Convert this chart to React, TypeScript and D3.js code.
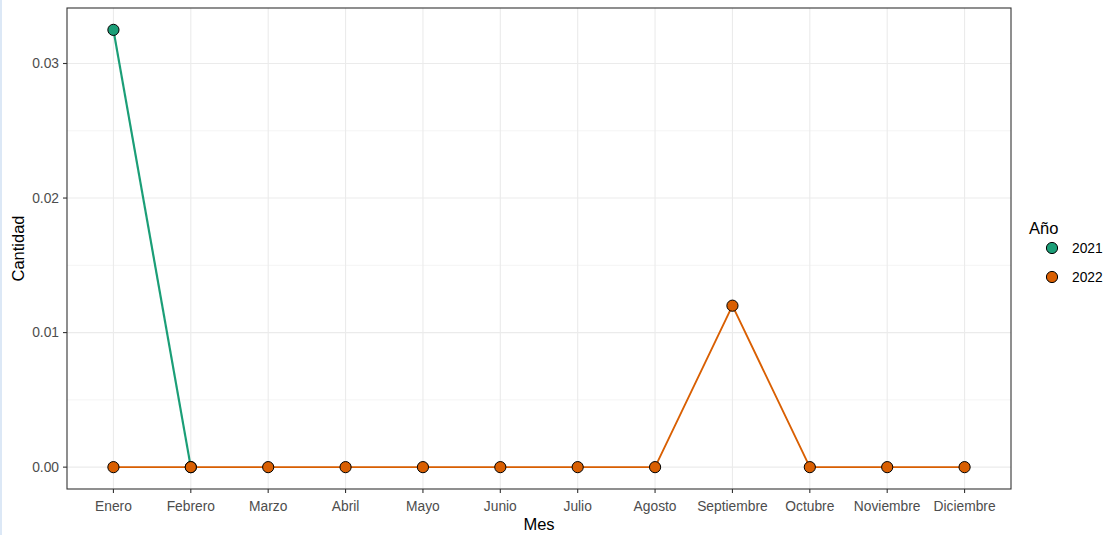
import * as d3 from "d3";

const W = 1108;
const H = 535;
const MARGIN = { top: 8, right: 97, bottom: 46, left: 67 };

const months = [
  "Enero", "Febrero", "Marzo", "Abril", "Mayo", "Junio",
  "Julio", "Agosto", "Septiembre", "Octubre", "Noviembre", "Diciembre",
];
const years = ["2021", "2022"];
// 2021 only has records for the first two months
const values2021 = [0.0325, 0];
const values2022 = [0, 0, 0, 0, 0, 0, 0, 0, 0.012, 0, 0, 0];
const yTicks = [0, 0.01, 0.02, 0.03];
const yMinor = [0.005, 0.015, 0.025, 0.035];
const colors = ["#1B9E77", "#D95F02"];

const series = [
  { year: years[0], values: values2021, color: colors[0], width: 2.2 },
  { year: years[1], values: values2022, color: colors[1], width: 1.9 },
];

export default function App() {
  const x0 = MARGIN.left;
  const x1 = W - MARGIN.right;
  const y0 = MARGIN.top;
  const y1 = H - MARGIN.bottom;

  // discrete axis with ggplot's 0.6 expansion on each side
  const xScale = d3
    .scalePoint<string>()
    .domain(months)
    .range([x0, x1])
    .padding(0.6);

  const maxV = d3.max([...values2021, ...values2022]) as number;
  const pad = maxV * 0.05;
  const yScale = d3.scaleLinear().domain([-pad, maxV + pad]).range([y1, y0]);

  const line = d3
    .line<number>()
    .x((_, i) => xScale(months[i]) as number)
    .y((d) => yScale(d));

  const fmt = d3.format(".2f");
  const font = "'Liberation Sans', Arial, sans-serif";
  const tickSize = 13.8;
  const titleSize = 16.5;

  return (
    <div style={{ position: "absolute", left: 0, top: 0 }}>
      <svg width={W} height={H} style={{ display: "block", background: "#fff" }}>
        <rect x={0} y={0} width={2} height={H} fill="#dce8f6" />
        {/* panel */}
        <rect x={x0} y={y0} width={x1 - x0} height={y1 - y0} fill="#fff" />
        {yMinor.filter((v) => yScale(v) > y0).map((v) => (
          <line key={"ym" + v} x1={x0} x2={x1} y1={yScale(v)} y2={yScale(v)} stroke="#EBEBEB" strokeWidth={0.55} />
        ))}
        {yTicks.map((v) => (
          <line key={"yg" + v} x1={x0} x2={x1} y1={yScale(v)} y2={yScale(v)} stroke="#EBEBEB" strokeWidth={1.1} />
        ))}
        {months.map((m) => (
          <line key={"xg" + m} x1={xScale(m)} x2={xScale(m)} y1={y0} y2={y1} stroke="#EBEBEB" strokeWidth={1.1} />
        ))}

        {series.map((s) => (
          <path key={"l" + s.year} d={line(s.values) as string} fill="none" stroke={s.color} strokeWidth={s.width} />
        ))}
        {series.map((s) =>
          s.values.map((v, i) => (
            <circle
              key={s.year + i}
              cx={xScale(months[i])}
              cy={yScale(v)}
              r={5.6}
              fill={s.color}
              stroke="#000"
              strokeWidth={1}
            />
          ))
        )}

        <rect x={x0} y={y0} width={x1 - x0} height={y1 - y0} fill="none" stroke="#333333" strokeWidth={1.1} />

        {/* y axis */}
        {yTicks.map((v) => (
          <g key={"yt" + v}>
            <line x1={x0 - 4} x2={x0} y1={yScale(v)} y2={yScale(v)} stroke="#333333" strokeWidth={1.1} />
            <text x={x0 - 8} y={yScale(v)} dy="0.35em" textAnchor="end" fontFamily={font} fontSize={tickSize} fill="#4D4D4D">
              {fmt(v)}
            </text>
          </g>
        ))}
        {/* x axis */}
        {months.map((m) => (
          <g key={"xt" + m}>
            <line x1={xScale(m)} x2={xScale(m)} y1={y1} y2={y1 + 4} stroke="#333333" strokeWidth={1.1} />
            <text x={xScale(m)} y={506} dy="0.35em" textAnchor="middle" fontFamily={font} fontSize={tickSize} fill="#4D4D4D">
              {m}
            </text>
          </g>
        ))}

        <text x={(x0 + x1) / 2} y={524} dy="0.35em" textAnchor="middle" fontFamily={font} fontSize={titleSize} fill="#000">
          Mes
        </text>
        <text
          transform={`translate(18,${(y0 + y1) / 2}) rotate(-90)`}
          dy="0.35em"
          textAnchor="middle"
          fontFamily={font}
          fontSize={titleSize}
          fill="#000"
        >
          Cantidad
        </text>

        {/* legend */}
        <text x={1029} y={228} dy="0.35em" fontFamily={font} fontSize={titleSize} fill="#000">
          Año
        </text>
        {series.map((s, i) => (
          <g key={"lg" + s.year} transform={`translate(1052,${248 + i * 29})`}>
            <circle r={5.6} fill={s.color} stroke="#000" strokeWidth={1} />
            <text x={20} dy="0.35em" fontFamily={font} fontSize={tickSize} fill="#000">
              {s.year}
            </text>
          </g>
        ))}
      </svg>
    </div>
  );
}
